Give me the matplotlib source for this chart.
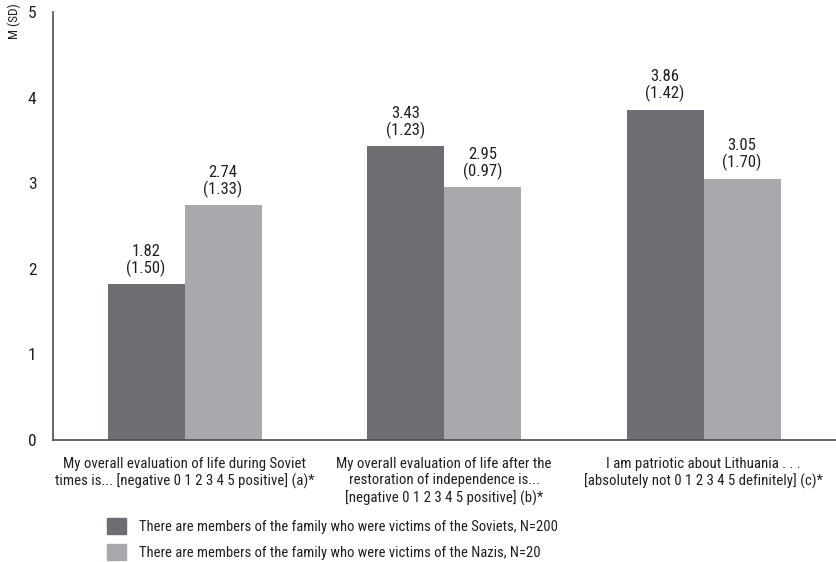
import numpy as np
import matplotlib.pyplot as plt
from matplotlib.patches import Patch

plt.rcParams['font.family'] = ['Roboto Condensed', 'Liberation Sans', 'DejaVu Sans']

categories = [
    "My overall evaluation of life during Soviet\ntimes is... [negative 0 1 2 3 4 5 positive] (a)*",
    "My overall evaluation of life after the\nrestoration of independence is...\n[negative 0 1 2 3 4 5 positive] (b)*",
    "I am patriotic about Lithuania . . .\n[absolutely not 0 1 2 3 4 5 definitely] (c)*",
]
soviet_mean = [1.82, 3.43, 3.86]
soviet_sd = [1.50, 1.23, 1.42]
nazi_mean = [2.74, 2.95, 3.05]
nazi_sd = [1.33, 0.97, 1.70]
series_labels = [
    "There are members of the family who were victims of the Soviets, N=200",
    "There are members of the family who were victims of the Nazis, N=20",
]

dark = "#6d6e71"
light = "#a7a9ac"
text_color = "#231f20"

fig = plt.figure(figsize=(8.36, 5.62), dpi=100)
ax = fig.add_axes([53 / 836, 1 - 440 / 562, 783 / 836, 428 / 562])

x = np.arange(len(categories))
w = 0.297
b1 = ax.bar(x - w / 2, soviet_mean, w, color=dark)
b2 = ax.bar(x + w / 2, nazi_mean, w, color=light)

for bars, means, sds in [(b1, soviet_mean, soviet_sd), (b2, nazi_mean, nazi_sd)]:
    for bar, m, s in zip(bars, means, sds):
        ax.annotate(f"{m:.2f}\n({s:.2f})",
                    (bar.get_x() + bar.get_width() / 2, m),
                    xytext=(0, 5.5), textcoords="offset points",
                    ha="center", va="bottom", fontsize=12,
                    color=text_color, linespacing=1.05)

ax.set_xlim(-0.507, 2.51)
ax.set_ylim(0, 5)
ax.set_yticks(range(6))
ax.tick_params(axis="y", length=0, pad=12, labelsize=12.5, labelcolor=text_color)
ax.set_xticks(x)
ax.set_xticklabels(categories, fontsize=10.7, color=text_color, linespacing=1.25)
ax.tick_params(axis="x", length=0, pad=12)

for side in ["top", "right"]:
    ax.spines[side].set_visible(False)
for side in ["left", "bottom"]:
    ax.spines[side].set_color("#4d4d4f")
    ax.spines[side].set_linewidth(1.2)

fig.text(14 / 836, 1 - 21 / 562, "M (SD)", rotation=90, ha="center", va="center",
         fontsize=9.5, color=text_color)

handles = [Patch(color=dark), Patch(color=light)]
fig.legend(handles, series_labels, loc="upper left",
           bbox_to_anchor=(101 / 836, 1 - 512 / 562), frameon=False,
           fontsize=10.5, labelcolor=text_color, handlelength=1.3,
           handleheight=1.3, handletextpad=0.9, labelspacing=0.7,
           borderaxespad=0)

fig.savefig("out.png", dpi=100)
